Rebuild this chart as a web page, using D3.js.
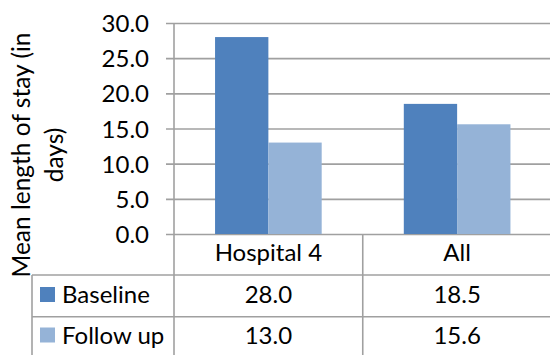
<!DOCTYPE html>
<html>
<head>
<meta charset="utf-8">
<script src="https://cdn.jsdelivr.net/npm/d3@7"></script>
<style>
  html, body { margin: 0; padding: 0; background: #fff; }
  svg { display: block; font-family: Lato, "Open Sans", sans-serif; }
</style>
</head>
<body>
<svg id="chart" width="550" height="355"></svg>
<script>
// Chart data
const categories = ["Hospital 4", "All"];
const seriesNames = ["Baseline", "Follow up"];
const baseline = [28.0, 18.5];
const followUp = [13.0, 15.6];
const yTicks = [0, 5, 10, 15, 20, 25, 30];
const axisTitleLines = ["Mean length of stay (in", "days)"];

const seriesValues = [baseline, followUp];
const colors = ["#4f81bd", "#95b3d7"];
const gridColor = "#a0a0a0";
const fontSize = 24;

const svg = d3.select("#chart");

const plotLeft = 174, plotRight = 551.5, plotTop = 23, plotBottom = 234;
const rowLines = [275, 316.7];
const tableLeft = 32, tableBottom = 355;

const x = d3.scaleBand().domain(categories).range([plotLeft, plotRight]).padding(0);
const xSeries = d3.scaleBand().domain(seriesNames).range([0, x.bandwidth()])
  .paddingInner(0).paddingOuter(0.77);
const y = d3.scaleLinear().domain([0, 30]).range([plotBottom, plotTop]);
const fmt = d3.format(".1f");

// Gridlines and y axis
const yAxis = d3.axisLeft(y).tickValues(yTicks).tickFormat(fmt)
  .tickSize(-(plotRight - plotLeft)).tickPadding(0);
const gy = svg.append("g").attr("transform", `translate(${plotLeft},0)`).call(yAxis);
gy.select(".domain").remove();
gy.selectAll(".tick line").attr("stroke", gridColor).attr("stroke-width", 1.6).attr("x1", -8);
gy.selectAll(".tick text")
  .attr("x", -25).attr("dy", "0.36em")
  .attr("fill", "#000").attr("font-size", fontSize).attr("font-family", "Lato, sans-serif");

// Bars
const groups = svg.append("g").selectAll("g").data(categories).join("g")
  .attr("transform", d => `translate(${x(d)},0)`);
groups.selectAll("rect")
  .data((c, i) => seriesNames.map((s, j) => ({ s, j, v: seriesValues[j][i] })))
  .join("rect")
  .attr("x", d => xSeries(d.s))
  .attr("width", xSeries.bandwidth())
  .attr("y", d => y(d.v))
  .attr("height", d => y(0) - y(d.v))
  .attr("fill", d => colors[d.j]);

// Data table lines
const lines = svg.append("g").attr("stroke", gridColor).attr("stroke-width", 1.6);
lines.append("line").attr("x1", plotLeft).attr("x2", plotLeft).attr("y1", plotTop).attr("y2", tableBottom);
categories.slice(1).forEach(c => {
  lines.append("line").attr("x1", x(c)).attr("x2", x(c)).attr("y1", plotBottom).attr("y2", tableBottom);
});
lines.append("line").attr("x1", tableLeft).attr("x2", tableLeft).attr("y1", rowLines[0]).attr("y2", tableBottom);
rowLines.forEach(ry => {
  lines.append("line").attr("x1", tableLeft).attr("x2", 550).attr("y1", ry).attr("y2", ry);
});

// Category labels
svg.append("g").selectAll("text").data(categories).join("text")
  .attr("x", d => x(d) + x.bandwidth() / 2)
  .attr("y", 261)
  .attr("text-anchor", "middle")
  .attr("font-size", fontSize)
  .text(d => d);

// Table rows: legend key, series name, values
const rowBase = [303, 343.5];
seriesNames.forEach((s, j) => {
  const row = svg.append("g");
  row.append("rect").attr("x", 40).attr("y", rowBase[j] - 16).attr("width", 15).attr("height", 15)
    .attr("fill", colors[j]);
  row.append("text").attr("x", 62).attr("y", rowBase[j]).attr("font-size", fontSize).text(s);
  row.selectAll("text.v").data(categories).join("text").attr("class", "v")
    .attr("x", d => x(d) + x.bandwidth() / 2)
    .attr("y", rowBase[j])
    .attr("text-anchor", "middle")
    .attr("font-size", fontSize)
    .text((d, i) => fmt(seriesValues[j][i]));
});

// Axis title (two lines, rotated)
const title = svg.append("text")
  .attr("transform", "translate(30,155) rotate(-90)")
  .attr("text-anchor", "middle")
  .attr("font-size", 24.5);
title.selectAll("tspan").data(axisTitleLines).join("tspan")
  .attr("x", 0).attr("dy", (d, i) => i === 0 ? 0 : 33)
  .text(d => d);
</script>
</body>
</html>
